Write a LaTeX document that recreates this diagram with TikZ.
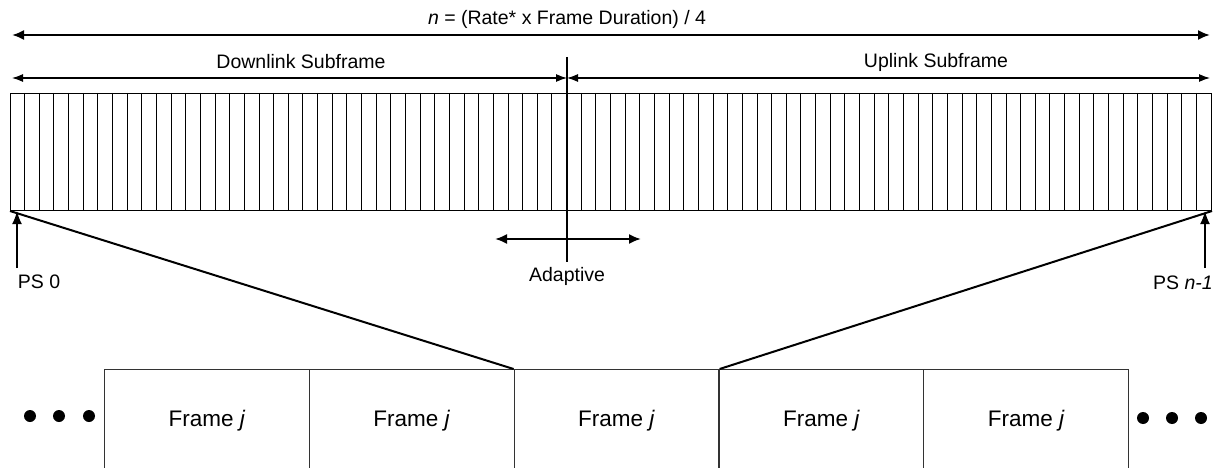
\documentclass[tikz,border=0pt]{standalone}
\usepackage{fontspec}
\setmainfont{Liberation Sans}
\usetikzlibrary{arrows.meta}
\begin{document}
\begin{tikzpicture}[x=1pt,y=-1pt,
  lbl/.style={inner sep=0pt,font=\fontsize{19.5}{22}\selectfont},
  framebox/.style={draw=black!80,line width=1.2pt,minimum width=204.8pt,minimum height=102pt,inner sep=0pt,anchor=north west,font=\fontsize{22.5}{26}\selectfont},
  bigarrow/.style={line width=2pt,{Latex[length=12pt,width=10pt]}-{Latex[length=12pt,width=10pt]}},
  subarrow/.style={line width=1.2pt,{Latex[length=11pt,width=8pt]}-{Latex[length=11pt,width=8pt]}},
  psarrow/.style={line width=2pt,-{Latex[length=13pt,width=10pt]}},
  dot/.style={circle,fill=black,minimum size=12pt,inner sep=0pt}
]
\useasboundingbox (0,0) rectangle (1218,468);
\clip (0,0) rectangle (1218,468);

% top dimension
\coordinate (tl) at (12,35);
\coordinate (tr) at (1210,35);
\draw[bigarrow] (tl) -- (tr);
\node[lbl] (formula) at (567,19) {\textit{n} = (Rate* x Frame Duration) / 4};

% subframes
\coordinate (dl) at (12,78);
\coordinate (mid) at (567,78);
\coordinate (ur) at (1210,78);
\draw[subarrow] (dl) -- (mid);
\draw[subarrow] (mid) -- (ur);
\node[lbl] (down) at (301,62) {Downlink Subframe};
\node[lbl] (up) at (936,62) {Uplink Subframe};

% slots
\node[draw,line width=1pt,minimum width=1201pt,minimum height=117pt,inner sep=0pt,anchor=north west] (slots) at (10,93) {};
\foreach \k in {1,...,81}{
  \draw[line width=0.9pt] ({10+\k*14.6463},93) -- ({10+\k*14.6463},210);
}

% adaptive boundary
\coordinate (vtop) at (567,57);
\coordinate (vbot) at (567,262);
\draw[line width=2pt] (vtop) -- (vbot);
\coordinate (al) at (495,239);
\coordinate (ar) at (641,239);
\draw[bigarrow] (al) -- (ar);
\node[lbl] (adaptive) at (567,276) {Adaptive};

% PS markers
\coordinate (ps0b) at (17,268);
\coordinate (ps0t) at (17,211);
\draw[psarrow] (ps0b) -- (ps0t);
\node[lbl] (ps0) at (39,282) {PS 0};
\coordinate (psnb) at (1205,268);
\coordinate (psnt) at (1205,211);
\draw[psarrow] (psnb) -- (psnt);
\node[lbl] (psn) at (1183,283) {PS \textit{n-1}};

% frames
\node[framebox] (f1) at (104,369) {Frame \textit{j}};
\node[framebox] (f2) at (308.8,369) {Frame \textit{j}};
\node[framebox] (f3) at (513.6,369) {Frame \textit{j}};
\node[framebox] (f4) at (718.4,369) {Frame \textit{j}};
\node[framebox] (f5) at (923.2,369) {Frame \textit{j}};

% zoom lines
\draw[line width=2pt] (slots.south west) -- (f3.north west);
\draw[line width=2pt] (slots.south east) -- (f3.north east);

% dots
\node[dot] (d1) at (30,416) {};
\node[dot] (d2) at (59,416) {};
\node[dot] (d3) at (89,416) {};
\node[dot] (d4) at (1143,418) {};
\node[dot] (d5) at (1172,418) {};
\node[dot] (d6) at (1201,418) {};
\end{tikzpicture}
\end{document}
